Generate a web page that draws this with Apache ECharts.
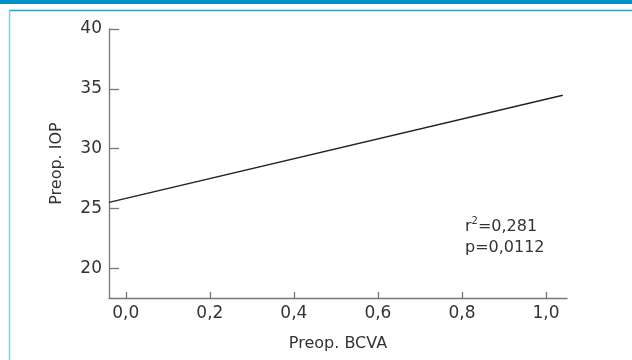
<!DOCTYPE html>
<html>
<head>
<meta charset="utf-8">
<script src="https://cdn.jsdelivr.net/npm/echarts@6/dist/echarts.min.js"></script>
<style>
  html, body { margin: 0; padding: 0; background: #fff; }
  #chart { width: 632px; height: 360px; }
</style>
</head>
<body>
<div id="chart"></div>
<script>
// regression line endpoints (Preop. BCVA, Preop. IOP)
const lineX = [-0.04, 1.04];
const lineY = [25.5, 34.45];
const xTicks = [0, 0.2, 0.4, 0.6, 0.8, 1.0];
const yTicks = [20, 25, 30, 35, 40];
const xName = 'Preop. BCVA';
const yName = 'Preop. IOP';
const rText = '0,281';
const pText = '0,0112';

const font = 'DejaVu Sans';
const chart = echarts.init(document.getElementById('chart'));
const comma = v => v.toFixed(1).replace('.', ',');

chart.setOption({
  animation: false,
  grid: { left: 109, right: 65, top: 29, bottom: 62 },
  graphic: [
    { type: 'rect', shape: { x: 0, y: 0, width: 632, height: 4 }, style: { fill: '#0090c6' } },
    { type: 'line', shape: { x1: 9, y1: 10.5, x2: 632, y2: 10.5 }, style: { stroke: '#1ea3d4', lineWidth: 1.5 } },
    { type: 'line', shape: { x1: 9.5, y1: 10, x2: 9.5, y2: 360 }, style: { stroke: '#7fcde6', lineWidth: 1.5 } },
    {
      type: 'text', left: 465, top: 216,
      style: {
        text: 'r{sup|2}=' + rText + '\np=' + pText,
        font: '16px "' + font + '"', fill: '#333', lineHeight: 21,
        rich: { sup: { fontSize: 10, verticalAlign: 'top', padding: [0, 0, 8, 0], fill: '#333', fontFamily: font } }
      }
    }
  ],
  xAxis: {
    type: 'value', min: -0.04, max: 1.05,
    name: xName, nameLocation: 'middle', nameGap: 38,
    nameTextStyle: { fontFamily: font, fontSize: 16, color: '#333' },
    splitLine: { show: false },
    axisLine: { onZero: false, lineStyle: { color: '#777', width: 1.3 } },
    axisTick: { inside: true, length: 6, customValues: xTicks, lineStyle: { color: '#777', width: 1.3 } },
    axisLabel: { customValues: xTicks, formatter: comma, fontFamily: font, fontSize: 17, color: '#333', margin: 7 }
  },
  yAxis: {
    type: 'value', min: 17.5, max: 40,
    name: yName, nameLocation: 'middle', nameGap: 44,
    nameTextStyle: { fontFamily: font, fontSize: 16, color: '#333' },
    splitLine: { show: false },
    axisLine: { show: true, onZero: false, lineStyle: { color: '#777', width: 1.3 } },
    axisTick: { show: true, inside: true, length: 10, customValues: yTicks, lineStyle: { color: '#777', width: 1.3 } },
    axisLabel: { customValues: yTicks, fontFamily: font, fontSize: 17, color: '#333', margin: 7 }
  },
  series: [{
    type: 'line',
    data: lineX.map((x, i) => [x, lineY[i]]),
    symbol: 'none',
    lineStyle: { color: '#222', width: 1.5 }
  }]
});
</script>
</body>
</html>
